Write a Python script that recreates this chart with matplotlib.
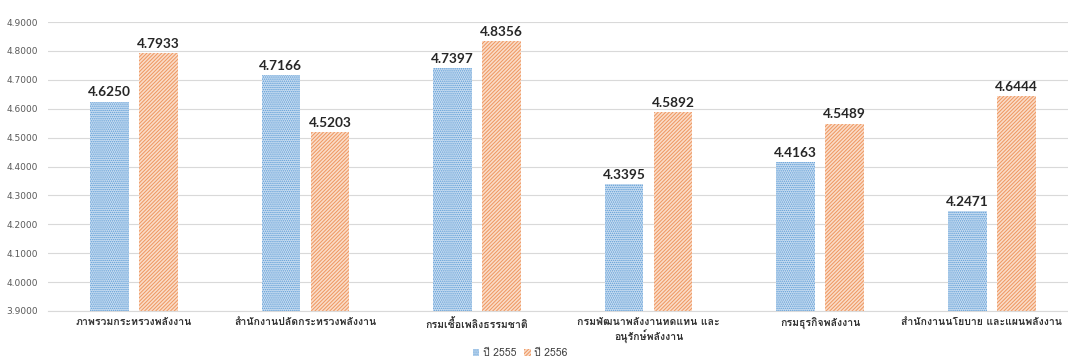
import matplotlib
matplotlib.use("Agg")
import matplotlib.pyplot as plt
import numpy as np
from matplotlib import font_manager
from matplotlib.ft2font import FT2Font
from matplotlib.transforms import ScaledTranslation

categories = [
    "ภาพรวมกระทรวงพลังงาน",
    "สำนักงานปลัดกระทรวงพลังงาน",
    "กรมเชื้อเพลิงธรรมชาติ",
    "กรมพัฒนาพลังงานทดแทน และ\nอนุรักษ์พลังงาน",
    "กรมธุรกิจพลังงาน",
    "สำนักงานนโยบาย และแผนพลังงาน",
]
series_names = ["ปี 2555", "ปี 2556"]
values_2555 = [4.6250, 4.7166, 4.7397, 4.3395, 4.4163, 4.2471]
values_2556 = [4.7933, 4.5203, 4.8356, 4.5892, 4.5489, 4.6444]
y_ticks = [3.9, 4.0, 4.1, 4.2, 4.3, 4.4, 4.5, 4.6, 4.7, 4.8, 4.9]


def find_thai_family():
    seen = set()
    for entry in font_manager.fontManager.ttflist:
        if entry.name in seen:
            continue
        seen.add(entry.name)
        try:
            cmap = FT2Font(entry.fname).get_charmap()
        except Exception:
            continue
        if 0x0E01 in cmap and 0x0E32 in cmap:
            return entry.name
    return None


thai = find_thai_family()
label_family = [thai, "DejaVu Sans"] if thai else ["DejaVu Sans"]

plt.rcParams["hatch.linewidth"] = 0.7

fig = plt.figure(figsize=(10.68, 3.62), dpi=100)
ax = fig.add_axes([0.045, 0.141, 0.964, 0.798])

x = np.arange(len(categories))
w = 0.225
off = 0.143

b1 = ax.bar(x - off, values_2555, w, color="#C9DDF1", edgecolor="#5B9BD5",
            hatch="........", linewidth=0, label=series_names[0])
b2 = ax.bar(x + off, values_2556, w, color="#FADCC8", edgecolor="#EE965F",
            hatch="/////////", linewidth=0, label=series_names[1])

for bars, vals in ((b1, values_2555), (b2, values_2556)):
    for rect, v in zip(bars, vals):
        ax.text(rect.get_x() + rect.get_width() / 2, v + 0.011, f"{v:.4f}",
                ha="center", va="bottom", fontsize=9.8, fontweight="bold",
                color="#262626", family=["Lato", "DejaVu Sans"])

ax.set_ylim(3.9, 4.9)
ax.set_xlim(-0.5, len(categories) - 0.5)
ax.set_yticks(y_ticks)
ax.set_yticklabels([f"{t:.4f}" for t in y_ticks], fontsize=6.5, color="#595959")
ax.set_xticks(x)
# the last category label is pulled back inside the figure's right edge
ax.set_xticklabels(categories[:-1] + [""], fontsize=7.6, fontweight="bold",
                   color="#333333", family=label_family, linespacing=1.15)
ax.text(x[-1], 0, categories[-1], ha="center", va="top", fontsize=7.6,
        fontweight="bold", color="#333333", family=label_family,
        transform=ax.get_xaxis_transform()
        + ScaledTranslation(-0.1, -5 / 72, fig.dpi_scale_trans))
ax.tick_params(axis="both", length=0)
ax.tick_params(axis="x", pad=5)
ax.tick_params(axis="y", pad=7)
ax.grid(axis="y", color="#D9D9D9", linewidth=0.8)
ax.set_axisbelow(True)
for side in ("top", "right", "left"):
    ax.spines[side].set_visible(False)
ax.spines["bottom"].set_color("#D9D9D9")

fig.legend(handles=[b1, b2], labels=series_names, loc="lower center",
           bbox_to_anchor=(0.487, -0.015), ncol=2, frameon=False,
           prop={"family": label_family, "size": 7.5},
           handlelength=0.6, handleheight=0.6, columnspacing=0.8,
           handletextpad=0.3, labelcolor="#404040")

fig.savefig("out.png", dpi=100)
